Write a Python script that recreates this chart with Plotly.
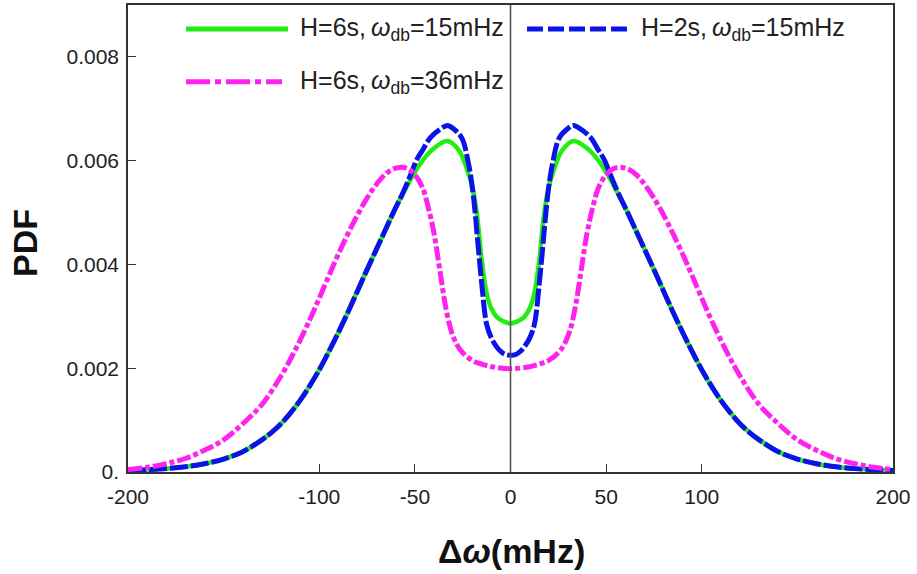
import plotly.graph_objects as go

# ---- data (x in mHz, PDF values in units of 1e-3), right half; curves are symmetric ----
green_x = [0, 4, 7, 10, 12.5, 15, 17.5, 20, 23, 27, 33, 40, 45, 50, 55, 61, 66, 70, 75, 80,
           85, 90, 95, 100, 105, 110, 115, 120, 125, 130, 140, 150, 160, 170, 180, 190, 200]
green_v = [2.86, 2.91, 2.98, 3.15, 3.45, 4.07, 4.95, 5.5, 5.86, 6.2, 6.38, 6.24, 6.05, 5.78, 5.45,
           5.02, 4.62, 4.30, 3.9, 3.49, 3.08, 2.69, 2.32, 1.97, 1.66, 1.38, 1.14, 0.93, 0.76, 0.62,
           0.39, 0.25, 0.16, 0.10, 0.065, 0.045, 0.03]

blue_x = [0, 3, 5, 7, 10, 12.5, 15, 17, 19.5, 22, 25.5, 30, 33, 37, 42, 46, 49, 52, 56, 61, 66, 70,
          75, 80, 85, 90, 95, 100, 105, 110, 115, 120, 125, 130, 140, 150, 160, 170, 180, 190, 200]
blue_v = [2.25, 2.27, 2.32, 2.40, 2.58, 2.85, 3.62, 4.39, 5.35, 5.95, 6.44, 6.62, 6.68, 6.6, 6.44,
          6.2, 6.02, 5.75, 5.4, 5.02, 4.62, 4.30, 3.9, 3.49, 3.08, 2.69, 2.32, 1.97, 1.66, 1.38, 1.14,
          0.93, 0.76, 0.62, 0.39, 0.25, 0.16, 0.10, 0.065, 0.045, 0.03]

mag_x = [0, 10, 15, 20, 25, 28, 31, 34, 37, 40, 43, 46, 50, 54, 58, 62, 66, 70, 75, 81.5, 90, 95,
         100, 105, 113, 120, 130, 140, 150, 160, 170, 180, 190, 200]
mag_v = [1.99, 2.03, 2.08, 2.15, 2.3, 2.45, 2.72, 3.2, 3.9, 4.6, 5.1, 5.48, 5.73, 5.85, 5.87, 5.83,
         5.72, 5.55, 5.28, 4.85, 4.2, 3.78, 3.35, 2.93, 2.32, 1.85, 1.3, 0.93, 0.62, 0.42, 0.26, 0.16,
         0.09, 0.05]

x_ticks = [-200, -100, -50, 0, 50, 100, 200]
y_ticks = [0, 0.002, 0.004, 0.006, 0.008]
y_ticktext = ["0.", "0.002", "0.004", "0.006", "0.008"]

labels = ["H=6s,\u2009<i>ω</i><sub>db</sub>=15mHz",
          "H=2s,\u2009<i>ω</i><sub>db</sub>=15mHz",
          "H=6s,\u2009<i>ω</i><sub>db</sub>=36mHz"]
colors = ["#22EE11", "#0A14E6", "#FF22EE"]


def full(xs, vs):
    xf = [-x for x in xs[::-1]] + xs[1:]
    vf = [v * 1e-3 for v in vs[::-1]] + [v * 1e-3 for v in vs[1:]]
    return xf, vf


fig = go.Figure()
gx, gv = full(green_x, green_v)
bx, bv = full(blue_x, blue_v)
mx, mv = full(mag_x, mag_v)

fig.add_trace(go.Scatter(x=gx, y=gv, mode="lines", line=dict(color=colors[0], width=4.5, shape="spline"),
                         name=labels[0], showlegend=False))
fig.add_trace(go.Scatter(x=bx, y=bv, mode="lines",
                         line=dict(color=colors[1], width=5, dash="18px,3px", shape="spline"),
                         name=labels[1], showlegend=False))
fig.add_trace(go.Scatter(x=mx, y=mv, mode="lines",
                         line=dict(color=colors[2], width=5, dash="14px,3px,5px,3px", shape="spline"),
                         name=labels[2], showlegend=False))

font_main = "Arial, Liberation Sans, sans-serif"
L, R, T, B = 128, 24, 3, 102
W, H = 917, 574
pw, ph = W - L - R, H - T - B


def px(xp):
    return (xp - L) / pw


def py(yp):
    return (H - B - yp) / ph


shapes = [
    dict(type="line", xref="x", yref="paper", x0=0, x1=0, y0=0, y1=1, layer="above",
         line=dict(color="#555555", width=1.6)),
    dict(type="line", xref="paper", yref="paper", x0=px(186), x1=px(288), y0=py(27), y1=py(27),
         line=dict(color=colors[0], width=5)),
    dict(type="line", xref="paper", yref="paper", x0=px(527), x1=px(627), y0=py(27), y1=py(27),
         line=dict(color=colors[1], width=5, dash="16px,5px")),
    dict(type="line", xref="paper", yref="paper", x0=px(186), x1=px(282), y0=py(80), y1=py(80),
         line=dict(color=colors[2], width=5, dash="24px,5px,6px,5px")),
]

annotations = [
    dict(text=labels[0], xref="paper", yref="paper", x=px(298), y=py(27), xanchor="left", yanchor="middle",
         showarrow=False, font=dict(size=25, color="#222222", family=font_main)),
    dict(text=labels[1], xref="paper", yref="paper", x=px(639), y=py(27), xanchor="left", yanchor="middle",
         showarrow=False, font=dict(size=25, color="#222222", family=font_main)),
    dict(text=labels[2], xref="paper", yref="paper", x=px(298), y=py(80), xanchor="left", yanchor="middle",
         showarrow=False, font=dict(size=25, color="#222222", family=font_main)),
    dict(text="<b>PDF</b>", xref="paper", yref="paper", x=px(25), y=py(242), textangle=-90,
         xanchor="center", yanchor="middle", showarrow=False,
         font=dict(size=34, color="#111111", family=font_main)),
    dict(text="<b>Δ<i>ω</i>(mHz)</b>", xref="paper", yref="paper", x=px(511), y=py(551),
         xanchor="center", yanchor="middle", showarrow=False,
         font=dict(size=34, color="#111111", family=font_main)),
]

fig.update_layout(
    width=W, height=H,
    margin=dict(l=L, r=R, t=T, b=B, pad=0),
    plot_bgcolor="white", paper_bgcolor="white",
    shapes=shapes, annotations=annotations,
    showlegend=False,
)
fig.update_xaxes(range=[-200, 200], tickvals=x_ticks, ticktext=[str(v) for v in x_ticks],
                 showgrid=False, zeroline=False, showline=True, mirror=True,
                 linecolor="#333333", linewidth=1.5, ticks="inside", ticklen=8, tickwidth=1.2,
                 tickcolor="#333333", ticklabelstandoff=5,
                 tickfont=dict(size=21, color="#222222",
                               family="Liberation Sans Narrow, Arial Narrow, Arial, sans-serif"))
fig.update_yaxes(range=[0, 0.009], tickvals=y_ticks, ticktext=y_ticktext,
                 showgrid=False, zeroline=False, showline=True, mirror=True,
                 linecolor="#333333", linewidth=1.5, ticks="inside", ticklen=8, tickwidth=1.2,
                 tickcolor="#333333", ticklabelstandoff=3,
                 tickfont=dict(size=21, color="#222222", family=font_main))

fig.write_html("out.html", config={"displayModeBar": False},
               post_script="document.body.style.margin='0';document.body.style.padding='0';")
